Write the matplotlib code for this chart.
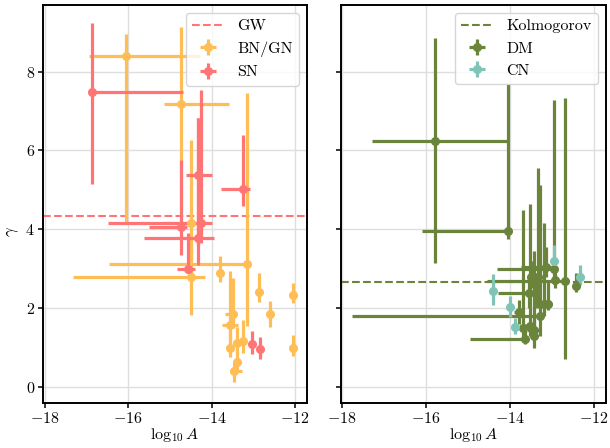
import numpy as np
import matplotlib
matplotlib.use("Agg")
import matplotlib.pyplot as plt

plt.rcParams.update({
    "font.family": "serif",
    "font.serif": ["cmr10", "DejaVu Serif"],
    "mathtext.fontset": "cm",
    "axes.formatter.use_mathtext": True,
    "font.size": 11,
    "axes.linewidth": 1.4,
})

# ---------------- data (value, low bound, high bound) ----------------
# SN
sn_x   = [-16.87, -14.73, -14.26, -14.33, -14.32, -14.56, -13.26, -13.03, -12.85]
sn_y   = [7.47, 4.06, 4.16, 3.78, 5.37, 2.98, 5.01, 1.08, 0.97]
sn_xlo = [-16.94, -15.49, -16.49, -15.63, -14.61, -14.83, -13.78, -13.03, -12.85]
sn_xhi = [-14.68, -14.60, -14.00, -13.94, -13.98, -14.40, -13.09, -13.03, -12.85]
sn_ylo = [5.14, 3.34, 3.65, 3.09, 3.60, 2.91, 4.59, 0.83, 0.72]
sn_yhi = [9.22, 5.75, 7.53, 6.81, 6.82, 3.90, 6.39, 1.42, 1.26]

# BN/GN
bn_x   = [-16.06, -14.73, -14.49, -14.49, -13.15, -13.80, -12.86, -12.06, -12.61,
          -12.06, -13.49, -13.56, -13.56, -13.40, -13.26, -13.40, -13.47]
bn_y   = [8.39, 7.17, 4.17, 2.78, 3.11, 2.89, 2.42, 2.33, 1.85,
          1.00, 1.86, 1.58, 1.00, 1.12, 1.17, 0.63, 0.40]
bn_xlo = [-16.94, -15.15, -15.14, -17.32, -16.45, -13.80, -12.86, -12.06, -12.61,
          -12.06, -13.69, -13.75, -13.56, -13.40, -13.26, -13.40, -13.55]
bn_xhi = [-14.28, -13.59, -14.28, -14.16, -13.15, -13.80, -12.86, -12.06, -12.61,
          -12.06, -13.41, -13.37, -13.56, -13.40, -13.26, -13.40, -13.28]
bn_ylo = [4.19, 4.60, 3.30, 1.82, 1.55, 2.67, 2.16, 2.14, 1.53,
          0.79, 1.50, 0.90, 0.76, 0.80, 0.85, 0.40, 0.12]
bn_yhi = [8.95, 9.14, 6.26, 3.60, 7.45, 3.31, 2.88, 2.63, 2.19,
          1.31, 2.76, 2.94, 1.40, 1.52, 1.71, 0.90, 0.60]

# DM
dm_x   = [-15.79, -14.04, -12.69, -12.95, -13.34, -13.28, -13.68, -13.52, -13.20,
          -13.43, -13.15, -12.93, -12.44, -13.50, -13.36, -13.55, -13.10, -13.78,
          -13.65, -13.43]
dm_y   = [6.23, 3.96, 2.69, 2.99, 2.78, 1.79, 1.49, 1.54, 2.10,
          1.44, 3.05, 2.72, 2.56, 2.78, 2.38, 2.38, 2.10, 1.91,
          1.21, 1.30]
dm_xlo = [-17.28, -16.11, -14.56, -14.32, -13.50, -17.76, -13.90, -13.70, -13.30,
          -13.60, -13.75, -13.00, -12.50, -13.60, -14.29, -13.70, -13.20, -13.90,
          -14.96, -13.50]
dm_xhi = [-14.06, -14.04, -12.69, -12.95, -13.20, -13.26, -13.50, -13.40, -13.10,
          -13.30, -13.03, -12.90, -12.40, -13.40, -13.34, -13.45, -13.00, -13.70,
          -13.65, -13.35]
dm_ylo = [3.14, 3.75, 0.70, 2.60, 2.20, 1.30, 1.20, 1.30, 1.80,
          1.25, 2.80, 2.50, 2.42, 2.50, 2.00, 2.00, 1.95, 1.60,
          1.10, 1.00]
dm_yhi = [8.86, 7.68, 7.32, 7.27, 5.56, 5.13, 4.50, 4.64, 4.16,
          3.44, 3.56, 2.95, 2.88, 3.20, 2.90, 2.70, 2.65, 2.20,
          1.60, 1.70]

# CN
cn_x   = [-14.41, -14.01, -13.89, -12.95, -12.34]
cn_y   = [2.43, 2.02, 1.53, 3.20, 2.78]
cn_xlo = [-14.43, -14.03, -13.91, -12.97, -12.36]
cn_xhi = [-14.39, -13.99, -13.87, -12.93, -12.32]
cn_ylo = [2.08, 1.78, 1.35, 2.97, 2.59]
cn_yhi = [2.87, 2.31, 1.75, 3.60, 3.10]

gw_gamma = 13 / 3
kolmogorov_gamma = 8 / 3

c_bn = "#FFBE55"
c_sn = "#FF7575"
c_dm = "#6A843C"
c_cn = "#80C4B8"


def errs(v, lo, hi):
    v, lo, hi = map(np.asarray, (v, lo, hi))
    return np.vstack([v - lo, hi - v])


fig = plt.figure(figsize=(6.1, 4.48), dpi=100)
ax1 = fig.add_axes([0.071, 0.101, 0.432, 0.888])
ax2 = fig.add_axes([0.559, 0.101, 0.434, 0.888], sharey=ax1)

eb_kw = dict(fmt="o", markersize=5.5, elinewidth=2.3, capsize=0)

ax1.axhline(gw_gamma, color=c_sn, ls="--", lw=1.5, label="GW")
ax1.errorbar(bn_x, bn_y, xerr=errs(bn_x, bn_xlo, bn_xhi), yerr=errs(bn_y, bn_ylo, bn_yhi),
             color=c_bn, label="BN/GN", **eb_kw)
ax1.errorbar(sn_x, sn_y, xerr=errs(sn_x, sn_xlo, sn_xhi), yerr=errs(sn_y, sn_ylo, sn_yhi),
             color=c_sn, label="SN", **eb_kw)

ax2.axhline(kolmogorov_gamma, color=c_dm, ls="--", lw=1.5, label="Kolmogorov")
ax2.errorbar(dm_x, dm_y, xerr=errs(dm_x, dm_xlo, dm_xhi), yerr=errs(dm_y, dm_ylo, dm_yhi),
             color=c_dm, label="DM", **eb_kw)
ax2.errorbar(cn_x, cn_y, xerr=errs(cn_x, cn_xlo, cn_xhi), yerr=errs(cn_y, cn_ylo, cn_yhi),
             color=c_cn, label="CN", **eb_kw)

for ax in (ax1, ax2):
    ax.set_xlim(-18.03, -11.72)
    ax.set_xticks([-18, -16, -14, -12])
    ax.grid(True, color="0.87", lw=1.0)
    ax.set_axisbelow(True)
    ax.set_xlabel(r"$\log_{10} A$", fontsize=11.5, labelpad=0)
    ax.tick_params(direction="out", length=3.5, width=1.1, labelsize=11.5, pad=2.5)
    ax.legend(loc="upper right", fontsize=11.5, framealpha=0.8, fancybox=True,
              borderpad=0.4, handlelength=2.0)

ax1.set_ylim(-0.4, 9.69)
ax1.set_yticks([0, 2, 4, 6, 8])
ax1.set_ylabel(r"$\gamma$", fontsize=12)
ax1.yaxis.set_label_coords(-0.085, 0.43)
plt.setp(ax2.get_yticklabels(), visible=False)

fig.savefig("out.png", dpi=100)
